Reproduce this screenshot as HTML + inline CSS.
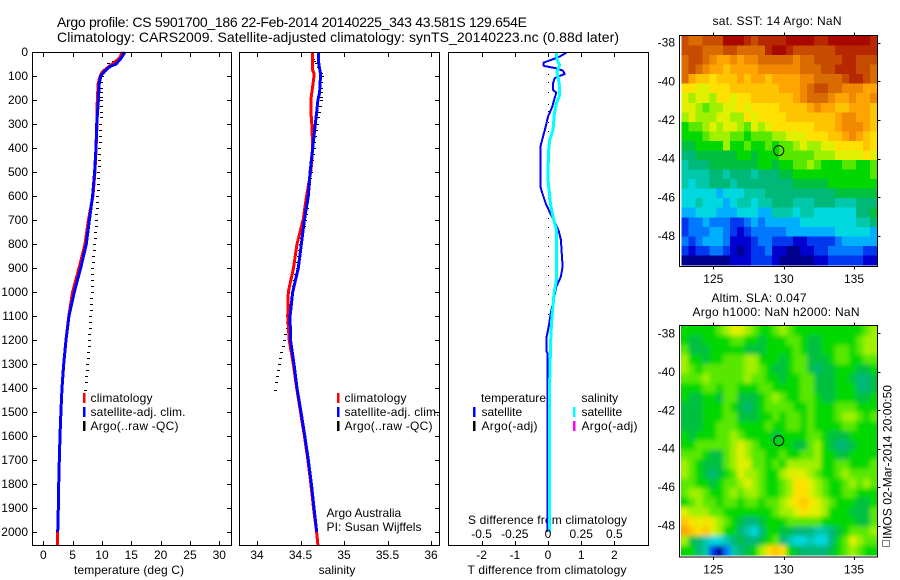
<!DOCTYPE html>
<html>
<head>
<meta charset="utf-8">
<title>Argo profile</title>
<style>
html,body{margin:0;padding:0;background:#fff;overflow:hidden}
svg{display:block}
text{font-family:"Liberation Sans",sans-serif;font-size:12px;fill:#000}
.ttl{font-size:14px}
</style>
</head>
<body>
<svg id="fig" xmlns="http://www.w3.org/2000/svg" width="900" height="580" viewBox="0 0 900 580">
<defs>
<filter id="sla-smooth" x="-5%" y="-5%" width="110%" height="110%"><feGaussianBlur stdDeviation="2.4"/></filter>
</defs>
<rect x="0" y="0" width="900" height="580" fill="#fff"/>
<text class="ttl" x="57" y="27" textLength="470" lengthAdjust="spacing">Argo profile: CS 5901700_186 22-Feb-2014 20140225_343 43.581S 129.654E</text>
<text class="ttl" x="57" y="42" textLength="562" lengthAdjust="spacing">Climatology: CARS2009. Satellite-adjusted climatology: synTS_20140223.nc (0.88d later)</text>
<text x="129" y="574" text-anchor="middle" textLength="110" lengthAdjust="spacing">temperature (deg C)</text>
<text x="337" y="574" text-anchor="middle">salinity</text>
<text x="547" y="574" text-anchor="middle" textLength="159" lengthAdjust="spacing">T difference from climatology</text>
<text x="547.5" y="524" text-anchor="middle" textLength="159" lengthAdjust="spacing">S difference from climatology</text>
<text x="777" y="25" text-anchor="middle" textLength="129" lengthAdjust="spacing">sat. SST: 14 Argo: NaN</text>
<text x="759" y="302" text-anchor="middle" textLength="95" lengthAdjust="spacing">Altim. SLA: 0.047</text>
<text x="776" y="316" text-anchor="middle" textLength="167" lengthAdjust="spacing">Argo h1000: NaN h2000: NaN</text>
<text x="326.5" y="517">Argo Australia</text>
<text x="326.5" y="531" textLength="95" lengthAdjust="spacing">PI: Susan Wijffels</text>
<text transform="translate(891.5,539) rotate(-90)" textLength="154" lengthAdjust="spacing">IMOS 02-Mar-2014 20:00:50</text>
<rect x="882.5" y="540.5" width="7" height="6" fill="none" stroke="#000" stroke-width="1" stroke-dasharray="1 1" shape-rendering="crispEdges"/>
<g id="marks"></g>
<g shape-rendering="crispEdges">
<rect x="83" y="393" width="2.5" height="10" fill="#f00"/>
<rect x="83" y="407" width="2.5" height="10" fill="#00f"/>
<rect x="83" y="421" width="2.5" height="10" fill="#000"/>
</g>
<text x="90.5" y="402" textLength="62" lengthAdjust="spacing">climatology</text>
<text x="90.5" y="416" textLength="95" lengthAdjust="spacing">satellite-adj. clim.</text>
<text x="90.5" y="430" textLength="88" lengthAdjust="spacing">Argo(..raw -QC)</text>
<g shape-rendering="crispEdges">
<rect x="337" y="393" width="2.5" height="10" fill="#f00"/>
<rect x="337" y="407" width="2.5" height="10" fill="#00f"/>
<rect x="337" y="421" width="2.5" height="10" fill="#000"/>
</g>
<text x="344.5" y="402" textLength="62" lengthAdjust="spacing">climatology</text>
<text x="344.5" y="416" textLength="95" lengthAdjust="spacing">satellite-adj. clim.</text>
<text x="344.5" y="430" textLength="88" lengthAdjust="spacing">Argo(..raw -QC)</text>
<g shape-rendering="crispEdges">
<rect x="473" y="407" width="2.5" height="10" fill="#00f"/>
<rect x="473" y="421" width="2.5" height="10" fill="#000"/>
<rect x="573" y="407" width="2.5" height="10" fill="#0ff"/>
<rect x="573" y="421" width="2.5" height="10" fill="#f0f"/>
</g>
<text x="481" y="402" textLength="65" lengthAdjust="spacing">temperature</text>
<text x="481.5" y="416">satellite</text>
<text x="481.5" y="430" textLength="56" lengthAdjust="spacing">Argo(-adj)</text>
<text x="581.5" y="402">salinity</text>
<text x="581.5" y="416">satellite</text>
<text x="581.5" y="430" textLength="56" lengthAdjust="spacing">Argo(-adj)</text>
</svg>
<script>
/* ---------- profile data ---------- */
const depthLevels = [0,25,50,60,70,80,90,100,130,170,200,250,300,400,500,600,700,800,900,1000,1100,1200,1300,1400,1500,1600,1700,1800,1900,2000,2054];
const climTemp = [13.5,13.0,11.8,11.2,10.7,10.2,9.9,9.7,9.35,9.27,9.2,9.15,9.15,9.0,8.8,8.45,7.68,7.1,6.08,5.0,4.35,3.87,3.47,3.19,3.0,2.85,2.73,2.62,2.56,2.45,2.45];
const satTemp = [13.9,13.3,12.4,11.4,10.9,10.5,10.1,9.8,9.55,9.45,9.4,9.25,9.1,8.98,8.75,8.4,7.85,7.33,6.37,5.29,4.38,3.87,3.47,3.19,3.0,2.85,2.73,2.62,2.56,2.45];
const climSal = [34.636,34.636,34.636,34.636,34.636,34.645,34.655,34.655,34.645,34.63,34.62,34.62,34.63,34.64,34.617,34.57,34.53,34.46,34.42,34.36,34.353,34.37,34.417,34.456,34.5,34.545,34.585,34.62,34.65,34.685,34.7];
const satSal = [34.705,34.707,34.71,34.715,34.72,34.725,34.73,34.73,34.725,34.72,34.7,34.686,34.67,34.64,34.61,34.59,34.545,34.51,34.475,34.41,34.38,34.385,34.425,34.46,34.506,34.55,34.59,34.625,34.655,34.686];
const argoDepth = [5,30,36,44,64,86,100,125,150,165,186,200,225,250,272,300,325,350,375,400,425,450,475,500,525,550,575,600,625,650,675,700,725,750,775,800,825,850,875,900,925,950,975,1000,1025,1050,1075,1100,1125,1150,1175,1200,1225,1250,1275,1300,1325,1350,1375,1408];
const argoTemp = [13.6,12.8,11.9,11.1,10.8,10.2,10.0,9.9,9.85,9.8,9.8,9.8,9.78,9.75,9.75,9.72,9.7,9.68,9.65,9.55,9.52,9.48,9.44,9.38,9.35,9.3,9.25,9.2,9.15,9.1,9.05,8.98,8.9,8.85,8.78,8.7,8.62,8.55,8.45,8.35,8.33,8.3,8.28,8.25,8.2,8.12,8.05,7.96,7.92,7.88,7.84,7.79,7.72,7.65,7.55,7.45,7.4,7.32,7.25,7.16];
const argoSal = [34.63,34.64,34.66,34.68,34.7,34.73,34.745,34.74,34.74,34.74,34.74,34.73,34.72,34.71,34.7,34.69,34.68,34.67,34.66,34.655,34.645,34.635,34.625,34.617,34.61,34.6,34.59,34.58,34.575,34.57,34.56,34.55,34.535,34.52,34.505,34.49,34.48,34.47,34.465,34.456,34.44,34.43,34.415,34.4,34.39,34.38,34.37,34.36,34.35,34.34,34.325,34.31,34.295,34.28,34.265,34.25,34.24,34.23,34.22,34.207];
const tDiffDepth = [3,19,33,44,58,68,78,92,100,110,131,158,169,193,228,269,311,353,394,436,561,589,631,672,707,749,783,894,936,978,1033,1089,1144,1186,1249,1256,1367,2000];
const tDiff = [0.55,0.35,0.10,-0.13,-0.13,0.25,0.45,0.50,0.35,0.20,0.15,0.15,0.25,0.20,0.13,0,-0.07,-0.15,-0.23,-0.23,-0.23,-0.17,-0.07,0.07,0.20,0.33,0.39,0.44,0.39,0.25,0.17,0.08,0.02,-0.04,-0.04,-0.01,-0.01,-0.01];
const sDiffDepth = [3,33,54,82,103,144,179,214,256,325,367,422,533,575,631,686,742,783,950,1006,1061,1117,1200,1367,2000];
const sDiff = [0.063,0.068,0.088,0.068,0.075,0.088,0.088,0.063,0.048,0.038,0.013,0.003,0,0.008,0.018,0.038,0.063,0.063,0.063,0.045,0.038,0.028,0.02,0.013,0.013];
const argoDiffDepth = [90,125,165,215,245,265,290,330,370,410,450,490,530,570,610,650,690,730,770,810,850,890,930,970,1010,1050,1090,1130];
const argoDiff = [0,0,0,0,0,0,0,0,0,0,0,0,0,0,0,0,0,0,0,0,0,0,0,0,0,0,0,0];

/* ---------- tick labels ---------- */
const depthTicks = [0,100,200,300,400,500,600,700,800,900,1000,1100,1200,1300,1400,1500,1600,1700,1800,1900,2000];
const tempTicks = [0,5,10,15,20,25,30];
const salTicks = [34,34.5,35,35.5,36];
const tDiffTicks = [-2,-1,0,1,2];
const sDiffTicks = [-0.5,-0.25,0,0.25,0.5];
const lonTicks = [125,130,135];
const latTicks = [-38,-40,-42,-44,-46,-48];

/* ---------- map data: one base-36 colour level per 0.5 degree cell ---------- */
const sstRows = [
"ihhiiikkkjijjjjkkkkjjkkkkkkj",
"iiihhhiihhhhjkkjiiiiiijjjjjj",
"hiihgffgfgghhhhhghhiiiijjiii",
"hihgffeffffgggggghhhiijjjiih",
"hfeedeeefeffeffffgghhhhijjih",
"ddccdddeeeeeeefffghiihhgggff",
"cbccbddcddeeeeeefghhhgffgffg",
"ccbabbccdcddddeeeefgffeefffe",
"bcbbbccbbdcddddeeeeeeefggffe",
"9aabcbccbacbcddddddeeefgggfe",
"999abbbaa9aaabbcccdddeefgfed",
"889999b99a99a9aabcbbccdddded",
"77888888998999aaaaabbbccccdc",
"6777888888899899aaba999aa99a",
"666677677767778899999999999a",
"6566777677777777888889999999",
"5555545556667777777777888888",
"5565554566566777666777666777",
"4455544455544666566555555778",
"2334333223434444455555555667",
"2333443212333334444444555554",
"3234443111233222112222344444",
"2122332101223110011223333322",
"0000000111222100000112222211"
];
const slaRows = [
"99999abccba99aba9999999999ab",
"9889999aa998999aa98899999abb",
"a888999998889999a98899aa9abb",
"b99899aaabb99989aa8889aa99aa",
"ba9aaaaaabba9889aa8788999889",
"aaabaaaaabaa99899aa888998778",
"999aa9aa999aa9999aa888999778",
"988998aa8889aba99aa988999889",
"888999a98789aaaa99a999aaa999",
"888999aa88899a9aa9a999abba9a",
"88899aaa9999a99aa9a9999aa999",
"98999aaba999989999aa98889999",
"99aaaaabcba9999988ab98778999",
"aaa988abcbaa99a99aab99889999",
"ba9888abccaa9a9bbbbb99aa999a",
"ba98789acbba99bcccba99abaaaa",
"aa9989aabcba99abddcba99ababa",
"abba99ababba99abddcba99aa999",
"9abaa9aa9aa9aabcdedcba999889",
"cbbbaa9999999abbcdccb999888a",
"edcdcba98778999aaaaa9999988a",
"fedecb997657998877766789aaab",
"b876556787789a765565579acbaa",
"99762036789bded98777789aba99"
];
const mapPalette = ["#000090","#0000d0","#0038f0","#0078ff","#00b0ff","#00d8e0","#00c8a8","#00b878","#00c040","#00d800","#58e800","#a0f000","#e0f000","#ffe000","#ffc400","#ffa400","#f08800","#d86c00","#c84c00","#b82800","#a80800"];
const floatLon = 129.654;
const floatLat = -43.581;

/* ---------- axis functions ---------- */
const NS = 'http://www.w3.org/2000/svg';
const root = document.getElementById('marks');
function mk(tag, attrs, parent){
  const e = document.createElementNS(NS, tag);
  for(const k in attrs){ e.setAttribute(k, attrs[k]); }
  (parent || root).appendChild(e);
  return e;
}
const yDepth = d => 52 + d * 0.24;
const xTemp = v => 43.3 + v * 5.867;
const xSal = v => 257 + (v - 34) * 87;
const xTDiff = v => 548 + v * 33.2;
const xSDiff = v => 548 + v * 132.8;
const xLon = v => 713.3 + (v - 125) * 14.07;
const yLat1 = v => 42.7 + (-38 - v) * 19.33;
const yLat2 = v => 333.3 + (-38 - v) * 19.24;

function profileLine(values, depths, xf, colour, width, name){
  const pts = values.map((v, i) => xf(v).toFixed(1) + ',' + yDepth(depths[i]).toFixed(1)).join(' ');
  const el = mk('polyline', {points: pts, fill: 'none', stroke: colour, 'stroke-width': width, 'shape-rendering': 'crispEdges', 'stroke-linejoin': 'round'});
  
  
}
function argoDots(values, depths, xf, name, w){
  values.forEach((v, i) => {
    const el = mk('rect', {x: Math.round(xf(v)) - (w === 1 ? 0 : 1), y: Math.round(yDepth(depths[i])), width: w, height: 1, fill: '#000', 'shape-rendering': 'crispEdges'});
    
    
  });
}
function tick(x1, y1, x2, y2){
  const el = mk('line', {x1: x1, y1: y1, x2: x2, y2: y2, stroke: '#000', 'stroke-width': 1, 'shape-rendering': 'crispEdges'});
  
  
}
function label(x, y, txt, anchor){
  const el = mk('text', {x: x, y: y, 'text-anchor': anchor});
  el.textContent = txt;
  
  
}
function frame(x, y, w, h, name){
  const el = mk('rect', {x: x, y: y, width: w, height: h, fill: 'none', stroke: '#000', 'stroke-width': 1, 'shape-rendering': 'crispEdges'});
  
  
}
function px(v){ return Math.round(v) + 0.5; }

/* ---------- maps ---------- */
function heatmap(rows, clipId, fx, fy, fw, fh, y0, ch, name, smooth){
  const defs = mk('clipPath', {id: clipId});
  mk('rect', {x: fx, y: fy, width: fw, height: fh}, defs);
  const outer = mk('g', {'clip-path': 'url(#' + clipId + ')'});
  const g = mk('g', smooth ? {filter: 'url(#sla-smooth)'} : {'shape-rendering': 'crispEdges'}, outer);
  
  
  const cw = 6.99;
  const pad = smooth ? 12 : 0;
  rows.forEach((row, r) => {
    for(let c = 0; c < row.length; c++){
      const x = 681.3 + c * cw - (c === 0 ? pad : 0);
      const y = y0 + r * ch - (r === 0 ? pad : 0);
      const w = cw + 0.5 + (c === 0 || c === row.length - 1 ? pad : 0);
      const h = ch + 0.5 + (r === 0 || r === rows.length - 1 ? pad : 0);
      const cell = mk('rect', {x: x.toFixed(2), y: y.toFixed(2), width: w, height: h, fill: mapPalette[parseInt(row[c], 36)]}, g);
      
      
    }
  });
}
heatmap(sstRows, 'clip-sst', 681, 36, 196, 229.5, 36, 9.54, 'sst-heatmap', false);
heatmap(slaRows, 'clip-sla', 681, 326, 196, 229.5, 326, 9.54, 'sla-heatmap', true);
frame(679.5, 35.5, 198, 231, 'sst-map-frame');
frame(679.5, 325.5, 198, 231.5, 'sla-map-frame');

[[yLat1, 35.5, 266.5],[yLat2, 325.5, 557]].forEach(m => {
  lonTicks.forEach(v => {
    tick(px(xLon(v)), m[1] - 3, px(xLon(v)), m[1]);
    tick(px(xLon(v)), m[2], px(xLon(v)), m[2] + 3);
    label(xLon(v), m[2] + 16.5, String(v), 'middle');
  });
  latTicks.forEach(v => {
    tick(877.5, px(m[0](v)), 880.5, px(m[0](v)));
    label(675, m[0](v) + 4, String(v), 'end');
  });
  const c = mk('circle', {cx: xLon(floatLon), cy: m[0](floatLat), r: 5, fill: 'none', stroke: '#000', 'stroke-width': 1});
  
  
});

/* ---------- profile panels ---------- */
argoDots(argoTemp, argoDepth, xTemp, 'argo-temperature-point', 3);
profileLine(climTemp, depthLevels, xTemp, '#f00', 3, 'climatology-temperature-line');
profileLine(satTemp, depthLevels, xTemp, '#00f', 3, 'satellite-temperature-line');

argoDots(argoSal, argoDepth, xSal, 'argo-salinity-point', 3);
profileLine(climSal, depthLevels, xSal, '#f00', 3, 'climatology-salinity-line');
profileLine(satSal, depthLevels, xSal, '#00f', 3, 'satellite-salinity-line');

argoDots(argoDiff, argoDiffDepth, xTDiff, 'argo-difference-point', 1);
profileLine(tDiff, tDiffDepth, xTDiff, '#00f', 2, 't-difference-line');
profileLine(sDiff, sDiffDepth, xSDiff, '#0ff', 3, 's-difference-line');

frame(32.5, 52.5, 199, 493, 'temperature-panel-frame');
frame(239.5, 52.5, 200, 493, 'salinity-panel-frame');
frame(448.5, 52.5, 200, 493, 'difference-panel-frame');

depthTicks.forEach(d => {
  const y = px(yDepth(d));
  label(28, yDepth(d) + 4, String(d), 'end');
  tick(32.5, y, 37, y);
  tick(227, y, 231.5, y);
  tick(435, y, 439.5, y);
});
tempTicks.forEach(v => {
  const x = px(xTemp(v));
  tick(x, 52.5, x, 57);
  tick(x, 541, x, 545.5);
  label(xTemp(v), 559, String(v), 'middle');
});
salTicks.forEach(v => {
  const x = px(xSal(v));
  tick(x, 52.5, x, 57);
  tick(x, 541, x, 545.5);
  label(xSal(v), 559, String(v), 'middle');
});
tDiffTicks.forEach(v => {
  const x = px(xTDiff(v));
  tick(x, 52.5, x, 57);
  tick(x, 541, x, 545.5);
  label(xTDiff(v), 559, String(v), 'middle');
});
sDiffTicks.forEach(v => {
  label(xSDiff(v), 538, String(v), 'middle');
});
</script>
</body>
</html>
